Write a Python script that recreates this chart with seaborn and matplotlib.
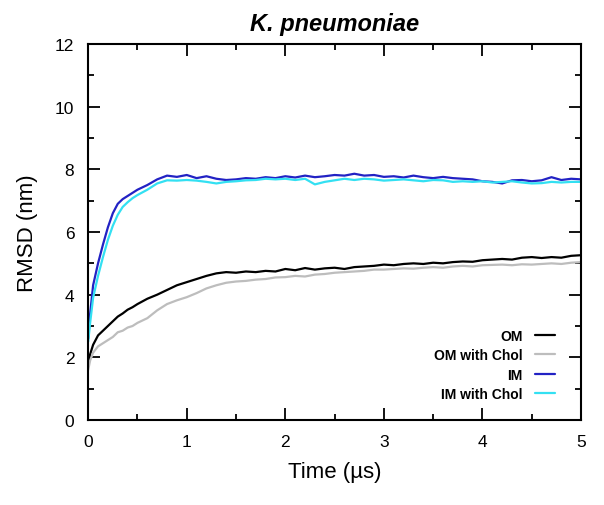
import pandas as pd
import seaborn as sns
import matplotlib.pyplot as plt
from matplotlib.ticker import MultipleLocator

# Data (time in microseconds, RMSD in nm)
time_us = [0, 0.02, 0.05, 0.1, 0.15, 0.2, 0.25, 0.3, 0.35, 0.4, 0.45,
           0.5, 0.6, 0.7, 0.8, 0.9, 1.0, 1.1, 1.2, 1.3, 1.4, 1.5, 1.6, 1.7, 1.8, 1.9,
           2.0, 2.1, 2.2, 2.3, 2.4, 2.5, 2.6, 2.7, 2.8, 2.9, 3.0, 3.1, 3.2, 3.3, 3.4,
           3.5, 3.6, 3.7, 3.8, 3.9, 4.0, 4.1, 4.2, 4.3, 4.4, 4.5, 4.6, 4.7, 4.8, 4.9, 5.0]

om = [1.8, 2.1, 2.4, 2.7, 2.85, 3.0, 3.15, 3.3, 3.4, 3.52, 3.6,
      3.7, 3.87, 4.0, 4.15, 4.3, 4.4, 4.5, 4.6, 4.68, 4.72, 4.7, 4.74, 4.72, 4.76, 4.74,
      4.82, 4.78, 4.85, 4.8, 4.84, 4.86, 4.82, 4.88, 4.9, 4.92, 4.96, 4.94, 4.98, 5.0, 4.98,
      5.02, 5.0, 5.04, 5.06, 5.05, 5.1, 5.12, 5.14, 5.12, 5.18, 5.2, 5.17, 5.2, 5.18, 5.24, 5.26]

om_chol = [1.6, 1.9, 2.15, 2.35, 2.45, 2.55, 2.65, 2.8, 2.85, 2.95, 3.0,
           3.1, 3.25, 3.5, 3.7, 3.82, 3.92, 4.05, 4.2, 4.3, 4.38, 4.42, 4.44, 4.48, 4.5, 4.55,
           4.56, 4.6, 4.58, 4.64, 4.66, 4.7, 4.72, 4.74, 4.76, 4.8, 4.8, 4.82, 4.84, 4.83, 4.86,
           4.88, 4.86, 4.9, 4.92, 4.9, 4.94, 4.95, 4.96, 4.94, 4.97, 4.96, 4.98, 5.0, 4.98, 5.02, 5.04]

im = [2.6, 3.4, 4.3, 5.0, 5.6, 6.15, 6.6, 6.9, 7.05, 7.15, 7.25,
      7.35, 7.5, 7.68, 7.8, 7.76, 7.82, 7.72, 7.78, 7.7, 7.66, 7.68, 7.72, 7.7, 7.75, 7.72,
      7.78, 7.74, 7.8, 7.75, 7.78, 7.82, 7.8, 7.86, 7.8, 7.82, 7.76, 7.78, 7.74, 7.8, 7.75,
      7.72, 7.76, 7.72, 7.7, 7.68, 7.62, 7.6, 7.55, 7.65, 7.66, 7.62, 7.65, 7.75, 7.66, 7.7, 7.68]

im_chol = [2.5, 3.1, 3.9, 4.6, 5.2, 5.75, 6.2, 6.55, 6.8, 6.95, 7.08,
           7.18, 7.35, 7.55, 7.65, 7.64, 7.66, 7.64, 7.6, 7.55, 7.6, 7.62, 7.65, 7.66, 7.7, 7.68,
           7.7, 7.66, 7.7, 7.52, 7.6, 7.65, 7.7, 7.66, 7.7, 7.68, 7.64, 7.66, 7.68, 7.65, 7.62,
           7.66, 7.65, 7.6, 7.62, 7.6, 7.62, 7.58, 7.6, 7.62, 7.58, 7.55, 7.56, 7.6, 7.58, 7.6, 7.6]

labels = ["OM", "OM with Chol", "IM", "IM with Chol"]

palette = {
    "OM": "#000000",
    "OM with Chol": "#bdbdbd",
    "IM": "#2222c4",
    "IM with Chol": "#33e0f2",
}

# Long-form table
frames = []
for name, vals in zip(labels, [om, om_chol, im, im_chol]):
    frames.append(pd.DataFrame({"Time": time_us, "RMSD": vals, "System": name}))
plot_df = pd.concat(frames, ignore_index=True)

# Plot
sns.set_style("ticks")
plt.rcParams["font.family"] = ["Liberation Sans", "DejaVu Sans"]
for key in ["text.color", "axes.labelcolor", "xtick.color", "ytick.color", "axes.edgecolor"]:
    plt.rcParams[key] = "black"

fig = plt.figure(figsize=(6.04, 5.06), dpi=100)
ax = fig.add_axes([0.146, 0.168, 0.816, 0.743])

sns.lineplot(
    data=plot_df,
    x="Time",
    y="RMSD",
    hue="System",
    hue_order=labels,
    palette=palette,
    linewidth=1.6,
    ax=ax,
)

ax.set_xlim(0, 5)
ax.set_ylim(0, 12)
ax.xaxis.set_major_locator(MultipleLocator(1))
ax.xaxis.set_minor_locator(MultipleLocator(0.5))
ax.yaxis.set_major_locator(MultipleLocator(2))
ax.yaxis.set_minor_locator(MultipleLocator(1))
ax.tick_params(which="both", direction="in", top=True, right=True, width=1.3,
               labelsize=12.5, colors="black")
ax.tick_params(which="major", length=8.5, pad=10)
ax.tick_params(which="minor", length=4.5)
for spine in ax.spines.values():
    spine.set_linewidth(1.5)
    spine.set_color("black")

ax.set_xlabel("Time (\u00b5s)", fontsize=16, labelpad=9, color="black")
ax.set_ylabel("RMSD (nm)", fontsize=16, labelpad=12, color="black")
ax.set_title("K. pneumoniae", fontsize=17, fontweight="bold", fontstyle="italic",
             pad=10, color="black")

ax.legend(
    loc="lower right",
    bbox_to_anchor=(0.947, 0.05),
    borderaxespad=0,
    borderpad=0,
    frameon=False,
    markerfirst=False,
    handlelength=1.45,
    handletextpad=0.9,
    labelspacing=0.4,
    prop={"weight": "bold", "size": 10},
    title=None,
    labelcolor="black",
)

plt.savefig("out.png", dpi=100)
plt.close()
